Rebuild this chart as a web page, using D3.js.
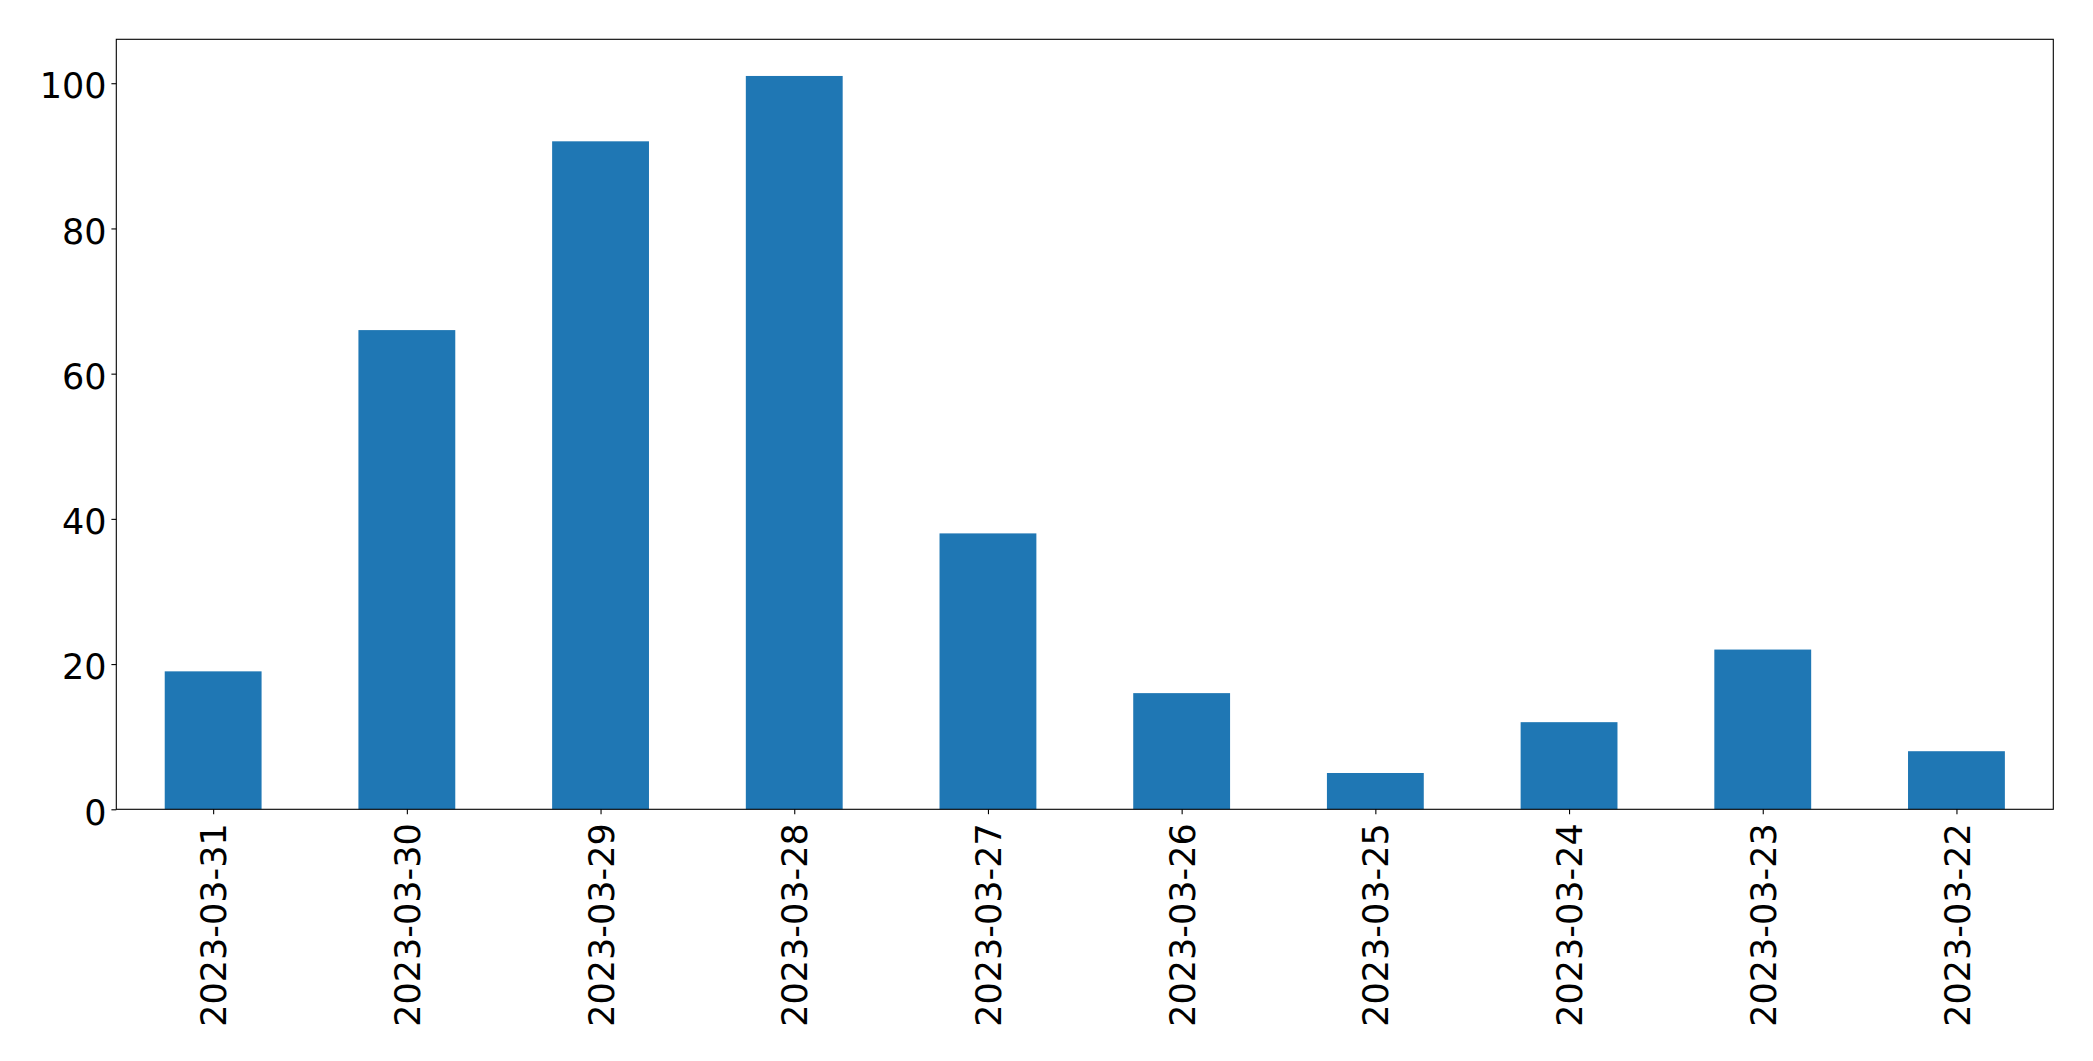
<!DOCTYPE html>
<html>
<head>
<meta charset="utf-8">
<script src="https://cdn.jsdelivr.net/npm/d3@7"></script>
<style>
  html, body { margin: 0; padding: 0; background: #fff; }
  svg { display: block; }
  text { font-family: "DejaVu Sans", sans-serif; fill: #000; }
</style>
</head>
<body>
<svg id="chart" width="2093" height="1061"></svg>
<script>
const categories = ["2023-03-31","2023-03-30","2023-03-29","2023-03-28","2023-03-27","2023-03-26","2023-03-25","2023-03-24","2023-03-23","2023-03-22"];
const values = [19, 66, 92, 101, 38, 16, 5, 12, 22, 8];
const yTicks = [0, 20, 40, 60, 80, 100];

const W = 2093, H = 1061;
const m = { left: 116.3, right: 2053.3, top: 39.3, bottom: 809.3 };
const fontSize = 35;
const svg = d3.select("#chart");

const x = d3.scaleLinear().domain([-0.5, categories.length - 0.5]).range([m.left, m.right]);
const y = d3.scaleLinear().domain([0, d3.max(values) * 1.05]).range([m.bottom, m.top]);
const barW = 0.5;

// bars
svg.append("g").selectAll("rect").data(values).join("rect")
  .attr("x", (d, i) => x(i - barW / 2))
  .attr("width", (d, i) => x(i + barW / 2) - x(i - barW / 2))
  .attr("y", d => y(d))
  .attr("height", d => y(0) - y(d))
  .attr("fill", "#1f77b4");

// y axis
const yAxis = d3.axisLeft(y).tickValues(yTicks).tickSize(4.9).tickPadding(4.9).tickFormat(d3.format("d"));
const gy = svg.append("g").attr("transform", `translate(${m.left},0)`).call(yAxis);
gy.select(".domain").remove();
gy.selectAll(".tick line").attr("stroke", "#000").attr("stroke-width", 1.1);
gy.selectAll(".tick text")
  .attr("font-size", fontSize)
  .attr("font-family", "DejaVu Sans")
  .attr("dy", "0.42em");

// x axis
const xAxis = d3.axisBottom(x).tickValues(d3.range(categories.length)).tickSize(4.9).tickFormat(i => categories[i]);
const gx = svg.append("g").attr("transform", `translate(0,${m.bottom})`).call(xAxis);
gx.select(".domain").remove();
gx.selectAll(".tick line").attr("stroke", "#000").attr("stroke-width", 1.1);
gx.selectAll(".tick text")
  .attr("font-size", fontSize)
  .attr("font-family", "DejaVu Sans")
  .attr("text-anchor", "end")
  .attr("transform", "translate(0,14) rotate(-90)")
  .attr("x", 0)
  .attr("y", 0)
  .attr("dy", "0.36em");

// frame
svg.append("rect")
  .attr("x", m.left).attr("y", m.top)
  .attr("width", m.right - m.left).attr("height", m.bottom - m.top)
  .attr("fill", "none").attr("stroke", "#000").attr("stroke-width", 1.1);
</script>
</body>
</html>
